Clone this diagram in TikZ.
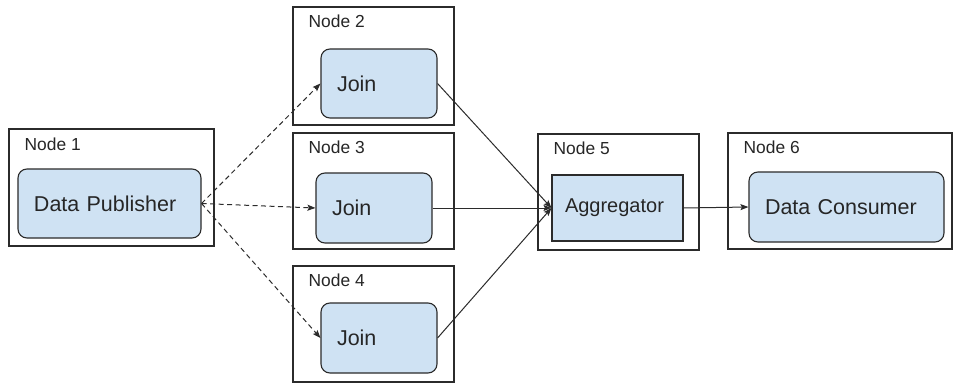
\documentclass[tikz,border=0pt]{standalone}
\usepackage{fontspec}
\setmainfont{Liberation Sans}
\usetikzlibrary{arrows.meta}
\definecolor{boxfill}{HTML}{CFE2F3}
\definecolor{linegray}{HTML}{2B2B2B}
\begin{document}
\begin{tikzpicture}[x=1pt,y=-1pt,
  outerbox/.style={draw=linegray, line width=1.1pt, fill=white, inner sep=0pt},
  innerbox/.style={draw=linegray, line width=1.1pt, fill=boxfill, rounded corners=9pt,
     inner xsep=16pt, inner ysep=0pt, align=left, text=black!85,
     font=\fontsize{21.5}{24}\selectfont},
  lbl/.style={anchor=north west, inner sep=0pt, text=black!85, font=\fontsize{17.4}{20}\selectfont},
  dasharrow/.style={draw=linegray, line width=1pt, dash pattern=on 5pt off 3.5pt,
     -{Stealth[length=8pt,width=6pt,inset=1.5pt]}},
  solidarrow/.style={draw=linegray, line width=1pt,
     -{Stealth[length=8pt,width=6pt,inset=1.5pt]}}
]
\useasboundingbox (0,0) rectangle (954,383);

% outer boxes
\node[outerbox, minimum width=205pt, minimum height=117pt] (n1) at (111.5,187.5) {};
\node[outerbox, minimum width=161pt, minimum height=118pt] (n2) at (373.5,66) {};
\node[outerbox, minimum width=161pt, minimum height=116pt] (n3) at (373.5,191) {};
\node[outerbox, minimum width=161pt, minimum height=116pt] (n4) at (373.5,324) {};
\node[outerbox, minimum width=161pt, minimum height=116pt] (n5) at (618.5,192) {};
\node[outerbox, minimum width=224pt, minimum height=116pt] (n6) at (840,191) {};

% labels
\node[lbl] (l1) at ([xshift=16pt,yshift=-9pt]n1.north west) {Node 1};
\node[lbl] (l2) at ([xshift=16pt,yshift=-8.5pt]n2.north west) {Node 2};
\node[lbl] (l3) at ([xshift=16pt,yshift=-8.5pt]n3.north west) {Node 3};
\node[lbl] (l4) at ([xshift=16pt,yshift=-8.5pt]n4.north west) {Node 4};
\node[lbl] (l5) at ([xshift=16pt,yshift=-8.5pt]n5.north west) {Node 5};
\node[lbl] (l6) at ([xshift=16pt,yshift=-8.5pt]n6.north west) {Node 6};

% inner boxes
\node[innerbox, text width=151pt, minimum height=69pt] (pub) at (109.5,203.5) {Data Publisher};
\node[innerbox, text width=84pt, minimum height=69pt] (j2) at (379,83.5) {Join};
\node[innerbox, text width=84pt, minimum height=70pt] (j3) at (374,208) {Join};
\node[innerbox, text width=84pt, minimum height=70pt] (j4) at (379,338) {Join};
\node[innerbox, rounded corners=0pt, inner xsep=13pt, text width=105pt, minimum height=66pt,
      font=\fontsize{20}{23}\selectfont] (agg) at (617.5,208) {Aggregator};
\node[innerbox, text width=163pt, minimum height=70pt] (dc) at (846.5,207) {Data Consumer};

% connectors
\draw[dasharrow] (pub.east) -- (j2.west);
\draw[dasharrow] (pub.east) -- (j3.west);
\draw[dasharrow] (pub.east) -- (j4.west);
\draw[solidarrow] (j2.east) -- (agg.west);
\draw[solidarrow] (j3.east) -- (agg.west);
\draw[solidarrow] (j4.east) -- (agg.west);
\draw[solidarrow] (agg.east) -- (dc.west);
\end{tikzpicture}
\end{document}
